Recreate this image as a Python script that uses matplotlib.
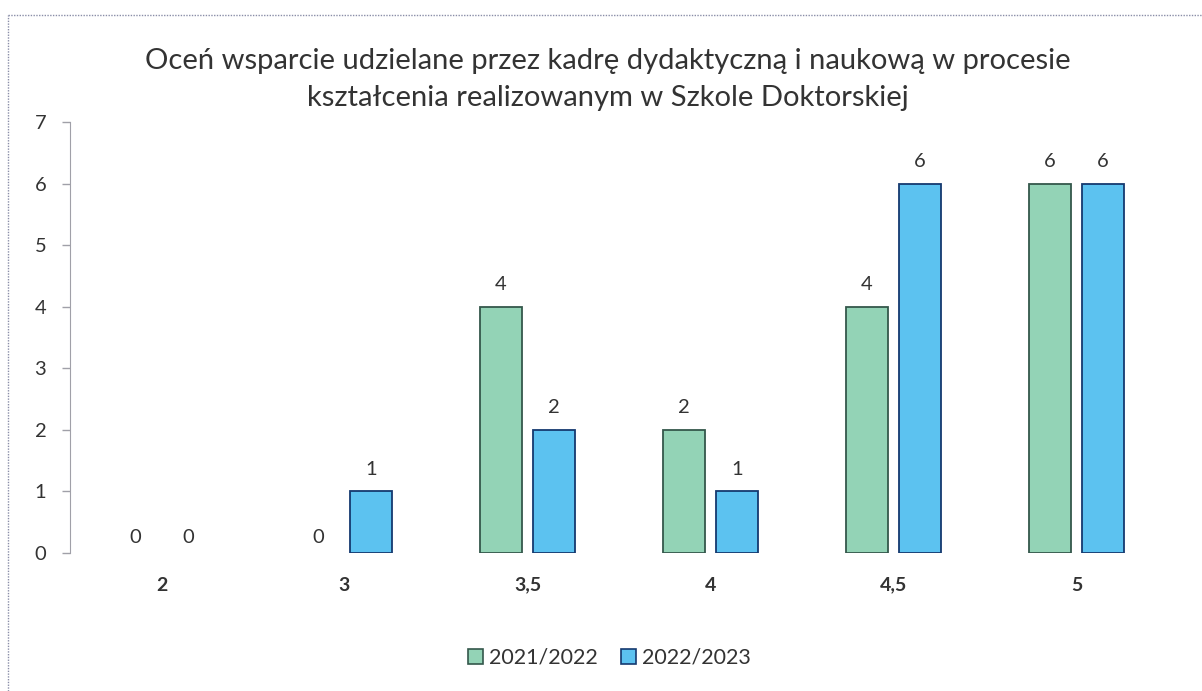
import numpy as np
import matplotlib.pyplot as plt
from matplotlib.lines import Line2D

plt.rcParams['font.family'] = ['Lato', 'DejaVu Sans']

categories = ["2", "3", "3,5", "4", "4,5", "5"]
series_labels = ["2021/2022", "2022/2023"]
values_2122 = [0, 0, 4, 2, 4, 6]
values_2223 = [0, 1, 2, 1, 6, 6]

title = ("Oceń wsparcie udzielane przez kadrę dydaktyczną i naukową w procesie\n"
         "kształcenia realizowanym w Szkole Doktorskiej")

green = "#93d3b6"
green_edge = "#34574b"
blue = "#5cc2f0"
blue_edge = "#15396f"
text_col = "#333333"

fig = plt.figure(figsize=(12.02, 6.91), dpi=100)
ax = fig.add_axes([0.0582, 0.1997, 0.9135, 0.6237])

x = np.arange(len(categories))
w = 0.225
off = 0.145
b1 = ax.bar(x - off, values_2122, w, color=green, edgecolor=green_edge, linewidth=1.3)
b2 = ax.bar(x + off, values_2223, w, color=blue, edgecolor=blue_edge, linewidth=1.3)

for bars, vals in ((b1, values_2122), (b2, values_2223)):
    for rect, v in zip(bars, vals):
        dy = 10
        if v == 0:
            rect.set_linewidth(0)
            dy = 5
        ax.annotate(str(v), (rect.get_x() + rect.get_width() / 2, v),
                    xytext=(0, dy), textcoords="offset points",
                    ha="center", va="bottom", fontsize=14.5, color=text_col)

ax.set_xlim(-0.5, len(categories) - 0.5)
ax.set_ylim(0, 7)
ax.set_yticks(range(8))
ax.set_xticks(x)
ax.set_xticklabels(categories, fontweight="bold")
ax.tick_params(axis="x", length=0, pad=17, labelsize=14, labelcolor=text_col)
ax.tick_params(axis="y", length=6, width=1, color="#a0a0a8", pad=11,
               labelsize=14.5, labelcolor=text_col)
for s in ("top", "right", "bottom"):
    ax.spines[s].set_visible(False)
ax.spines["left"].set_color("#a0a0a8")

fig.text(0.506, 0.93, title, ha="center", va="top", fontsize=21,
         color=text_col, linespacing=1.5)

handles = [plt.Rectangle((0, 0), 1, 1, facecolor=green, edgecolor=green_edge, linewidth=1.2),
           plt.Rectangle((0, 0), 1, 1, facecolor=blue, edgecolor=blue_edge, linewidth=1.2)]
fig.legend(handles, series_labels, loc="center", bbox_to_anchor=(0.507, 0.048),
           ncol=2, frameon=False, fontsize=15.5, handlelength=0.7, handleheight=0.7,
           handletextpad=0.25, columnspacing=1.1, labelcolor=text_col)

# scanned chart frame
fig.add_artist(Line2D([0.007, 0.007], [0, 0.978], color="#8a8ea8", linewidth=1, linestyle=(0, (1, 1))))
fig.add_artist(Line2D([0.007, 1], [0.978, 0.978], color="#8a8ea8", linewidth=1, linestyle=(0, (1, 1))))

fig.savefig("out.png", dpi=100)
